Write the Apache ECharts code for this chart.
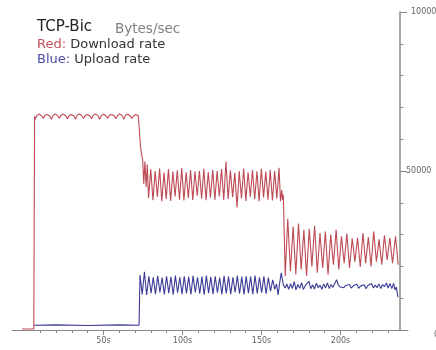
<!DOCTYPE html>
<html><head><meta charset="utf-8">
<script src="https://cdn.jsdelivr.net/npm/echarts@6/dist/echarts.min.js"></script>
<style>html,body{margin:0;padding:0;background:#fff}#c{width:436px;height:350px}</style>
</head><body><div id="c"></div>
<script>
// ---- data (time in seconds, value in bytes/sec) ----
const downloadStart = [[-1.5,300],[5.9,300],[6.4,67200]];
const downloadPlateau = [
 [6.8,66300],[7.8,67400],[9.3,67900],[10.8,67400],
 [11.9,66500],[12.9,67500],[14.4,67800],[15.9,67300],
 [17.0,66300],[18.0,67400],[19.5,67900],[21.0,67400],
 [22.1,66600],[23.1,67500],[24.6,67900],[26.1,67300],
 [27.2,66400],[28.2,67400],[29.7,67800],[31.2,67400],
 [32.3,66300],[33.3,67500],[34.8,67900],[36.3,67400],
 [37.4,66500],[38.4,67400],[39.9,67800],[41.4,67300],
 [42.5,66400],[43.5,67500],[45.0,67900],[46.5,67400],
 [47.6,66300],[48.6,67400],[50.1,67900],[51.6,67300],
 [52.7,66600],[53.7,67500],[55.2,67800],[56.7,67400],
 [57.8,66400],[58.8,67400],[60.3,67900],[61.8,67400],
 [62.9,66300],[63.9,67500],[65.4,67900],[66.9,67300],
 [68.0,66500],[69.0,67400],[70.5,67800],[72.0,67400],
 [72.8,66800]
];
const downloadMid = [
 [73.4,58000],[74.0,55500],[74.8,53500],[75.5,46000],[76.2,53000],[77.0,45000],[77.7,52000],
 [78.5,41500],[79.9,50500],[81.3,40800],[82.7,50000],[84.1,41800],[85.5,50800],[86.9,40500],
 [88.3,49500],[89.7,41200],[91.1,50600],[92.5,40600],[93.9,49800],[95.3,42000],[96.7,50200],
 [98.1,41000],[99.5,50900],[100.9,40700],[102.3,49600],[103.7,41500],[105.1,50300],[106.5,40900],
 [107.9,49900],[109.3,42200],[110.7,50100],[112.1,41300],[113.5,50700],[114.9,40800],[116.3,49700],
 [117.7,41600],[119.1,50400],[120.5,41000],[121.9,50000],[123.3,42000],[124.7,50600],[126.1,40900],
 [127.5,53000],[128.9,41200],[130.3,50200],[131.7,41800],[133.1,49400],[134.5,38500],[135.9,50000],
 [137.3,41400],[138.7,50800],[140.1,40600],[141.5,49600],[142.9,41900],[144.3,50300],[145.7,41100],
 [147.1,49900],[148.5,40500],[149.9,50700],[151.3,41700],[152.7,49800],[154.1,41000],[155.5,50400],
 [156.9,40700],[158.3,50000],[159.7,41400],[161.1,51000],[162.0,40500],[162.8,44000],[163.3,41000],
 [163.8,42500]
];
const downloadLate = [
 [164.4,30000],[165.0,17000],[166.6,35000],[168.3,18500],[170.0,32500],[171.7,17500],[173.4,33500],
 [175.1,19000],[176.8,31500],[178.5,17000],[180.2,31800],[181.9,20000],[183.6,32800],[185.3,18000],
 [187.0,30500],[188.7,19500],[190.4,31000],[192.1,17500],[193.8,30000],[195.5,20500],[197.2,31500],
 [198.9,19000],[200.6,29500],[202.3,21000],[204.0,30300],[205.7,19500],[207.4,28800],[209.1,21500],
 [210.8,29000],[212.5,19800],[214.2,30500],[215.9,21000],[217.6,29200],[219.3,20000],[221.0,31000],
 [222.7,21500],[224.4,28500],[226.1,20500],[227.8,29800],[229.5,22000],[231.2,29000],[232.9,21000],
 [234.8,29500],[236.5,20500]
];
const uploadStart = [[6.0,1500],[20,1600],[40,1400],[60,1600],[72.5,1500]];
const uploadMid = [
 [73.1,17300],[74.5,11200],[75.9,18300],[77.3,11000],[78.7,16900],[80.1,11600],[81.5,16600],
 [82.9,11300],[84.3,17000],[85.7,11800],[87.1,16500],[88.5,11200],[89.9,16900],[91.3,11600],
 [92.7,16700],[94.1,11100],[95.5,17100],[96.9,11700],[98.3,16600],[99.7,11300],[101.1,16900],
 [102.5,11500],[103.9,16700],[105.3,11200],[106.7,17000],[108.1,11800],[109.5,16600],[110.9,11400],
 [112.3,16800],[113.7,11100],[115.1,17100],[116.5,11600],[117.9,16700],[119.3,11300],[120.7,16900],
 [122.1,11700],[123.5,16500],[124.9,11200],[126.3,17000],[127.7,11500],[129.1,16800],[130.5,11300],
 [131.9,16600],[133.3,11800],[134.7,17000],[136.1,11400],[137.5,16700],[138.9,11200],[140.3,16900],
 [141.7,11600],[143.1,16800],[144.5,11300],[145.9,17100],[147.3,11500],[148.7,16600],[150.1,11700],
 [151.5,16900],[152.9,11400],[154.3,16500],[155.7,12200],[157.1,15800],[158.4,12800],[159.5,14500],
 [160.5,11000],[161.5,14800],[162.5,18000]
];
const uploadLate = [
 [163.8,14200],[165.0,13200],[166.0,14500],[167.2,12800],[168.4,14600],[169.5,13000],[170.7,15200],
 [171.8,12600],[173.0,14300],[174.2,13100],[175.4,14900],[176.5,12700],[177.7,14000],[178.9,13400],
 [180.0,15300],[181.2,13000],[182.4,14200],[183.5,12900],[184.7,14700],[185.9,13300],[187.0,14100],
 [188.2,12800],[189.4,14500],[190.5,13200],[191.7,14800],[192.9,13000],[194.0,14300],[195.2,13400],
 [196.4,14000],[197.5,15800],[198.6,14200],[199.8,13500],[201.0,14100],[202.1,13300],[203.3,14000],
 [204.5,13600],[205.6,14300],[206.8,13200],[208.0,13900],[209.1,13500],[210.3,14400],[211.5,13100],
 [212.6,13800],[213.8,13400],[215.0,14200],[216.1,13000],[217.3,14000],[218.5,13500],[219.6,14600],
 [220.8,13200],[222.0,14100],[223.1,13300],[224.3,14500],[225.5,13000],[226.6,14300],[227.8,13600],
 [229.0,14800],[230.1,13200],[231.3,14600],[232.5,13000],[233.6,14700],[234.5,12600],[235.3,13500],
 [236.3,10300]
];
const xMajorTicks = [50,100,150,200];
const xMinorTicks = [10,20,30,40,60,70,80,90,110,120,130,140,160,170,180,190,210,220,230];
const yMajorTicks = [0,50000,100000];
const yMinorTicks = [10000,20000,30000,40000,60000,70000,80000,90000];

const download = downloadStart.concat(downloadPlateau, downloadMid, downloadLate);
const upload = uploadStart.concat(uploadMid, uploadLate);

const FONT = 'DejaVu Sans';
const axisGrey = '#8a8a8a';
const chart = echarts.init(document.getElementById('c'), null, {renderer:'canvas'});
chart.setOption({
  animation:false,
  backgroundColor:'#fff',
  title:[
    {text:'TCP-Bic', left:37, top:20, padding:0, textStyle:{fontFamily:FONT, fontSize:15, fontWeight:'normal', color:'#222'}},
    {text:'Bytes/sec', left:115, top:22, padding:0, textStyle:{fontFamily:FONT, fontSize:13.5, fontWeight:'normal', color:'#808080'}},
    {text:'{r|Red:} Download rate', left:37, top:38, padding:0, textStyle:{fontFamily:FONT, fontSize:13, fontWeight:'normal', color:'#333',
      rich:{r:{fontFamily:FONT, fontSize:13, color:'#c0505a'}}}},
    {text:'{b|Blue:} Upload rate', left:37, top:53, padding:0, textStyle:{fontFamily:FONT, fontSize:13, fontWeight:'normal', color:'#333',
      rich:{b:{fontFamily:FONT, fontSize:13, color:'#4a4aa8'}}}}
  ],
  grid:{left:12, right:28, top:12, bottom:20, containLabel:false, outerBoundsMode:'none'},
  xAxis:[
    {type:'value', min:-7.9, max:242.7, position:'bottom',
     axisLine:{onZero:false, lineStyle:{color:axisGrey, width:1}},
     axisTick:{show:true, customValues:xMajorTicks, length:5, lineStyle:{color:axisGrey}},
     axisLabel:{customValues:xMajorTicks, formatter:v=>v+'s', fontFamily:FONT, fontSize:8, color:'#666', margin:7},
     splitLine:{show:false}},
    {type:'value', min:-7.9, max:242.7, position:'bottom',
     axisLine:{show:false, onZero:false},
     axisTick:{show:true, customValues:xMinorTicks, length:3, lineStyle:{color:axisGrey}},
     axisLabel:{show:false, customValues:xMinorTicks},
     splitLine:{show:false}}
  ],
  yAxis:[
    {type:'value', min:0, max:100000, position:'right', offset:-8,
     axisLine:{show:true, onZero:false, lineStyle:{color:axisGrey, width:1.5}},
     axisTick:{show:true, customValues:yMajorTicks, length:7, lineStyle:{color:axisGrey}},
     axisLabel:{customValues:yMajorTicks, fontFamily:FONT, fontSize:8, color:'#666', margin:6, align:'left',
       formatter:v=> v===100000 ? '{a|100000}' : (v===50000 ? '{b|50000}' : '{c|0}'),
       rich:{a:{padding:[0,0,0,5], fontFamily:FONT, fontSize:8, color:'#666'},
             b:{fontFamily:FONT, fontSize:8, color:'#666'},
             c:{padding:[10,0,0,28], fontFamily:FONT, fontSize:8, color:'#666'}}},
     splitLine:{show:false}},
    {type:'value', min:0, max:100000, position:'right', offset:-8,
     axisLine:{show:false, onZero:false},
     axisTick:{show:true, customValues:yMinorTicks, length:3.5, lineStyle:{color:axisGrey}},
     axisLabel:{show:false, customValues:yMinorTicks},
     splitLine:{show:false}}
  ],
  series:[
    {name:'Download', type:'line', xAxisIndex:0, yAxisIndex:0, data:download, showSymbol:false, symbol:'none',
     lineStyle:{color:'#bd4a55', width:1.1}, z:2},
    {name:'Upload', type:'line', xAxisIndex:0, yAxisIndex:0, data:upload, showSymbol:false, symbol:'none',
     lineStyle:{color:'#3c3c96', width:1.1}, z:3}
  ]
});
</script></body></html>
